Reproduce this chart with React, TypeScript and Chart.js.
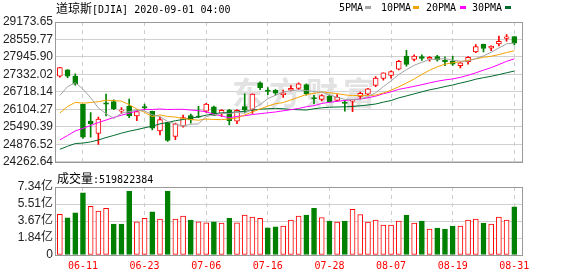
import React, { useEffect, useRef } from "react";
import { Chart, registerables } from "chart.js";

Chart.register(...registerables);

// ---- data ----
const dates = [
  "06-08", "06-09", "06-10", "06-11", "06-12", "06-15", "06-16", "06-17", "06-18", "06-19",
  "06-22", "06-23", "06-24", "06-25", "06-26", "06-29", "06-30", "07-01", "07-02", "07-06",
  "07-07", "07-08", "07-09", "07-10", "07-13", "07-14", "07-15", "07-16", "07-17", "07-20",
  "07-21", "07-22", "07-23", "07-24", "07-27", "07-28", "07-29", "07-30", "07-31", "08-03",
  "08-04", "08-05", "08-06", "08-07", "08-10", "08-11", "08-12", "08-13", "08-14", "08-17",
  "08-18", "08-19", "08-20", "08-21", "08-24", "08-25", "08-26", "08-27", "08-28", "08-31",
];

const opens = [
  27275, 27491, 27275, 26282, 25690, 25258, 26330, 26382, 26040, 26210,
  25870, 26200, 26037, 25348, 25640, 25150, 25518, 25890, 25870, 26040,
  26190, 25950, 26080, 25690, 26200, 26100, 27040, 26780, 26775, 26620,
  26780, 26840, 26975, 26520, 26450, 26560, 26420, 26360, 26390, 26560,
  26640, 26950, 27190, 27300, 27520, 27980, 27860, 27960, 27870, 27960,
  27830, 27800, 27640, 27780, 28120, 28390, 28250, 28400, 28600, 28660,
];
const highs = [
  27580, 27500, 27354, 26282, 25990, 25832, 26640, 26437, 26170, 26470,
  26080, 26290, 26040, 25830, 25650, 25620, 25905, 25940, 26210, 26320,
  26220, 26100, 26110, 26100, 26650, 26650, 27070, 26870, 26800, 26780,
  26940, 27040, 27000, 26600, 26620, 26600, 26620, 26420, 26440, 26710,
  26840, 27260, 27390, 27460, 27830, 28180, 28020, 28020, 27960, 28000,
  27950, 27970, 27750, 27960, 28380, 28400, 28340, 28680, 28730, 28660,
];
const lows = [
  27233, 27216, 26952, 25082, 25130, 24870, 25870, 26093, 25960, 25811,
  25710, 26090, 25380, 25210, 24980, 25040, 25480, 25620, 25810, 26000,
  25880, 25860, 25560, 25600, 26000, 25960, 26800, 26620, 26600, 26520,
  26750, 26800, 26600, 26300, 26400, 26370, 26380, 26040, 26020, 26460,
  26600, 26900, 27130, 27200, 27490, 27620, 27810, 27820, 27800, 27800,
  27640, 27650, 27560, 27690, 28100, 28120, 28170, 28330, 28500, 28370,
];
const closes = [
  27572, 27272, 26990, 25128, 25606, 25763, 26290, 26120, 26080, 25871,
  26025, 26156, 25446, 25746, 25016, 25596, 25813, 25735, 25827, 26287,
  25890, 26067, 25706, 26075, 26086, 26643, 26870, 26735, 26672, 26681,
  26840, 27006, 26652, 26470, 26585, 26379, 26540, 26314, 26428, 26664,
  26828, 27202, 27387, 27433, 27791, 27687, 27977, 27897, 27931, 27845,
  27778, 27693, 27740, 27930, 28308, 28248, 28332, 28492, 28654, 28430,
];
const prevClose = 27111; // close before the first day shown

const ma5 = [
  26596, 26901, 27045, 26815, 26514, 26152, 25955, 25781, 25972, 26025,
  26077, 26050, 25916, 25849, 25678, 25592, 25523, 25581, 25597, 25852,
  25910, 25961, 25955, 26005, 25965, 26115, 26276, 26482, 26601, 26720,
  26760, 26787, 26770, 26730, 26711, 26618, 26525, 26458, 26449, 26465,
  26555, 26687, 26902, 27103, 27328, 27500, 27655, 27757, 27857, 27867,
  27886, 27829, 27797, 27797, 27890, 27984, 28112, 28262, 28407, 28431,
];
const ma10 = [
  25978, 26206, 26350, 26323, 26345, 26374, 26428, 26413, 26394, 26270,
  26115, 26003, 25849, 25911, 25852, 25835, 25787, 25749, 25723, 25765,
  25751, 25742, 25768, 25801, 25909, 26013, 26119, 26219, 26303, 26343,
  26438, 26532, 26626, 26666, 26716, 26689, 26656, 26614, 26590, 26588,
  26587, 26606, 26680, 26776, 26897, 27028, 27171, 27330, 27480, 27598,
  27693, 27742, 27777, 27827, 27879, 27935, 27971, 28030, 28102, 28161,
];
const ma20 = [
  25032, 25185, 25346, 25440, 25539, 25643, 25728, 25823, 25899, 25969,
  26047, 26105, 26100, 26117, 26099, 26105, 26108, 26081, 26059, 26018,
  25933, 25873, 25809, 25856, 25881, 25924, 25953, 25984, 26013, 26054,
  26095, 26137, 26197, 26234, 26313, 26351, 26388, 26417, 26447, 26466,
  26513, 26569, 26653, 26721, 26807, 26859, 26914, 26972, 27035, 27093,
  27140, 27174, 27229, 27302, 27388, 27482, 27571, 27680, 27791, 27880,
];
const ma30 = [
  24703, 24808, 24904, 24920, 24962, 25030, 25115, 25189, 25270, 25337,
  25393, 25458, 25514, 25597, 25644, 25707, 25748, 25798, 25841, 25901,
  25948, 25984, 25989, 26012, 26036, 26074, 26111, 26127, 26140, 26126,
  26102, 26092, 26081, 26126, 26159, 26179, 26188, 26194, 26206, 26232,
  26259, 26293, 26358, 26414, 26508, 26577, 26649, 26721, 26791, 26843,
  26906, 26960, 27028, 27090, 27164, 27218, 27266, 27325, 27391, 27449,
];

// volume in 亿 (1e8 shares)
const volumes = [
  4.40, 4.01, 4.55, 6.70, 5.26, 4.73, 5.05, 3.33, 3.33, 6.87,
  3.58, 3.97, 4.65, 3.87, 6.87, 3.87, 4.19, 3.76, 3.58, 3.47,
  3.58, 3.44, 3.97, 3.47, 4.30, 4.08, 3.97, 2.94, 3.04, 3.11,
  3.76, 4.19, 4.30, 5.05, 4.05, 3.65, 3.54, 3.65, 4.94, 4.37,
  3.54, 3.76, 3.22, 3.22, 3.65, 4.30, 3.44, 3.65, 2.79, 2.90,
  2.79, 3.11, 3.11, 3.76, 3.87, 3.44, 3.33, 4.08, 3.76, 5.20,
];
const lastVolume = "519822384";

const priceTicks = [24262.64, 24876.52, 25490.39, 26104.27, 26718.14, 27332.02, 27945.90, 28559.77, 29173.65];
const priceTickLabels = ["24262.64", "24876.52", "25490.39", "26104.27", "26718.14", "27332.02", "27945.90", "28559.77", "29173.65"];
const volTicks = [0, 1.835, 3.67, 5.505, 7.34];
const volTickLabels = ["0", "1.84亿", "3.67亿", "5.51亿", "7.34亿"];
const xTickDates = ["06-11", "06-23", "07-06", "07-16", "07-28", "08-07", "08-19", "08-31"];

const titleCn = "道琼斯";
const titleEn = "[DJIA] 2020-09-01 04:00";
const legendNames = ["5PMA", "10PMA", "20PMA", "30PMA"];
const watermarkChars = ["东", "方", "财", "富"];

const RED = "#ff0000";
const GREEN = "#008000";
const MA_COLORS = ["#a3a3a3", "#f5a300", "#ff00ff", "#006b2e"];

const LABEL_FONT = { family: '"Liberation Sans", Arial, "Noto Sans CJK SC"', size: 12 };
const MONO = '"DejaVu Sans Mono", monospace';
const CJK = '"Noto Sans CJK SC", sans-serif';

const framePlugin = {
  id: "frame",
  afterDraw(chart: any) {
    const { ctx, chartArea: a } = chart;
    ctx.save();
    ctx.strokeStyle = "#999999";
    ctx.lineWidth = 1;
    ctx.strokeRect(Math.round(a.left) - 0.5, Math.round(a.top) + 0.5, Math.round(a.right - a.left) + 1, Math.round(a.bottom - a.top));
    ctx.restore();
  },
};

const watermarkPlugin = {
  id: "watermark",
  beforeDatasetsDraw(chart: any) {
    const { ctx, chartArea: a } = chart;
    ctx.save();
    ctx.fillStyle = "#e2e2e2";
    ctx.font = 'bold 32px "Noto Sans CJK SC"';
    ctx.textAlign = "center";
    ctx.textBaseline = "middle";
    const cx = a.left + 192;
    watermarkChars.forEach((c, k) => ctx.fillText(c, cx + k * 37, a.top + 71));
    ctx.restore();
  },
};

export default function App() {
  const priceRef = useRef<HTMLCanvasElement>(null);
  const volRef = useRef<HTMLCanvasElement>(null);

  useEffect(() => {
    const xTicks = xTickDates.map((d) => dates.indexOf(d));
    const candleUp = closes.map((c, i) => c >= opens[i]);
    const volUp = closes.map((c, i) => c >= (i === 0 ? prevClose : closes[i - 1]));

    const xScale = (showLabels: boolean) => ({
      type: "linear",
      min: -0.5,
      max: dates.length,
      offset: false,
      afterBuildTicks: (s: any) => {
        s.ticks = xTicks.map((v) => ({ value: v }));
      },
      afterFit: (s: any) => {
        s.height = showLabels ? 21 : 0;
      },
      ticks: {
        display: showLabels,
        autoSkip: false,
        maxRotation: 0,
        padding: 5,
        color: RED,
        font: { family: MONO, size: 10 },
        callback: (v: any) => dates[Math.round(v)],
      },
      grid: { color: "#cccccc", drawTicks: false, offset: false, lineWidth: 1 },
      border: { display: false, dash: [4, 4] },
    });

    const lineDs = (vals: number[], color: string) => ({
      type: "line",
      data: vals.map((y, x) => ({ x, y })),
      borderColor: color,
      borderWidth: 1,
      pointRadius: 0,
      fill: false,
      tension: 0,
      order: 0,
    });

    const price = new Chart(priceRef.current!, {
      type: "bar",
      data: {
        datasets: [
          lineDs(ma5, MA_COLORS[0]),
          lineDs(ma10, MA_COLORS[1]),
          lineDs(ma20, MA_COLORS[2]),
          lineDs(ma30, MA_COLORS[3]),
          {
            type: "bar",
            data: lows.map((l, x) => ({ x, y: [l, highs[x]] })),
            backgroundColor: candleUp.map((u) => (u ? RED : GREEN)),
            barThickness: 1,
            grouped: false,
            order: 2,
          },
          {
            type: "bar",
            data: opens.map((o, x) => ({ x, y: [o, closes[x]] })),
            backgroundColor: candleUp.map((u) => (u ? "#ffffff" : GREEN)),
            borderColor: candleUp.map((u) => (u ? RED : GREEN)),
            borderWidth: 1,
            borderSkipped: false,
            barThickness: 5,
            minBarLength: 1,
            grouped: false,
            order: 1,
          },
        ] as any,
      },
      options: {
        animation: false,
        responsive: false,
        devicePixelRatio: 1,
        events: [],
        layout: { padding: { left: 0, right: 56, top: 22, bottom: 7 } },
        plugins: { legend: { display: false }, tooltip: { enabled: false } },
        scales: {
          x: xScale(false) as any,
          y: {
            type: "linear",
            min: priceTicks[0],
            max: priceTicks[priceTicks.length - 1],
            afterBuildTicks: (s: any) => {
              s.ticks = priceTicks.map((v) => ({ value: v }));
            },
            afterFit: (s: any) => {
              s.width = 56;
            },
            ticks: {
              autoSkip: false,
              padding: 3,
              color: "#222222",
              font: LABEL_FONT,
              callback: (_v: any, i: number) => priceTickLabels[i],
            },
            grid: { color: "#d0d0d0", drawTicks: false },
            border: { display: false },
          },
        },
      },
      plugins: [watermarkPlugin, framePlugin],
    });

    const vol = new Chart(volRef.current!, {
      type: "bar",
      data: {
        datasets: [
          {
            data: volumes.map((y, x) => ({ x, y })),
            backgroundColor: volUp.map((u) => (u ? "#ffffff" : GREEN)),
            borderColor: volUp.map((u) => (u ? RED : GREEN)),
            borderWidth: 1,
            borderSkipped: false,
            barThickness: 5,
            grouped: false,
          },
        ] as any,
      },
      options: {
        animation: false,
        responsive: false,
        devicePixelRatio: 1,
        events: [],
        layout: { padding: { left: 0, right: 56, top: 17, bottom: 0 } },
        plugins: { legend: { display: false }, tooltip: { enabled: false } },
        scales: {
          x: xScale(true) as any,
          y: {
            type: "linear",
            min: volTicks[0],
            max: volTicks[volTicks.length - 1],
            afterBuildTicks: (s: any) => {
              s.ticks = volTicks.map((v) => ({ value: v }));
            },
            afterFit: (s: any) => {
              s.width = 56;
            },
            ticks: {
              autoSkip: false,
              padding: 3,
              color: "#222222",
              font: LABEL_FONT,
              callback: (_v: any, i: number) => volTickLabels[i],
            },
            grid: { color: "#d0d0d0", drawTicks: false },
            border: { display: false },
          },
        },
      },
      plugins: [framePlugin],
    });

    return () => {
      price.destroy();
      vol.destroy();
    };
  }, []);

  const legendX = [339, 381, 426, 472];
  const markX = [365, 413, 460, 505];

  return (
    <div style={{ position: "absolute", left: 0, top: 0, width: 578, height: 276, background: "#ffffff", overflow: "hidden" }}>
      <canvas ref={priceRef} width={578} height={172} style={{ position: "absolute", left: 0, top: 0, width: 578, height: 172 }} />
      <canvas ref={volRef} width={578} height={106} style={{ position: "absolute", left: 0, top: 170, width: 578, height: 106 }} />
      <div style={{ position: "absolute", left: 56, top: 0, height: 16, lineHeight: "16px", whiteSpace: "nowrap", color: "#000" }}>
        <span style={{ fontFamily: CJK, fontSize: 12 }}>{titleCn}</span>
        <span style={{ fontFamily: MONO, fontSize: 10 }}>{titleEn}</span>
      </div>
      {legendNames.map((n, k) => (
        <React.Fragment key={n}>
          <div style={{ position: "absolute", left: legendX[k], top: 0, height: 16, lineHeight: "16px", fontFamily: MONO, fontSize: 10, color: "#000", whiteSpace: "nowrap" }}>{n}</div>
          <div style={{ position: "absolute", left: markX[k], top: 6, width: 6, height: 3, background: MA_COLORS[k] }} />
        </React.Fragment>
      ))}
      <div style={{ position: "absolute", left: 57, top: 170, height: 16, lineHeight: "16px", whiteSpace: "nowrap", color: "#000" }}>
        <span style={{ fontFamily: CJK, fontSize: 12 }}>成交量</span>
        <span style={{ fontFamily: MONO, fontSize: 10 }}>{":" + lastVolume}</span>
      </div>
    </div>
  );
}
